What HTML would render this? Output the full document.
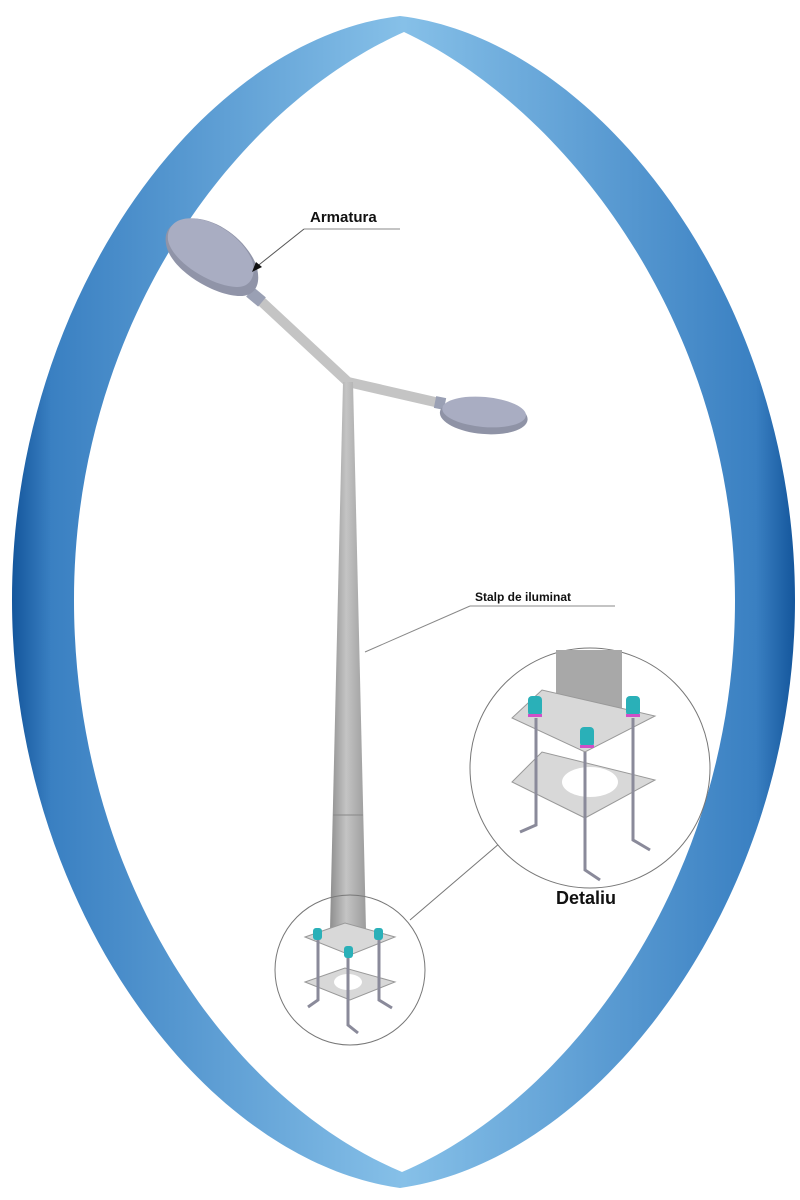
<!DOCTYPE html>
<html><head><meta charset="utf-8"><style>
html,body{margin:0;padding:0;background:#fff;width:800px;height:1200px;overflow:hidden}
svg{display:block}
text{font-family:"Liberation Sans",sans-serif;font-weight:bold;fill:#111}
</style></head><body>
<svg width="800" height="1200" viewBox="0 0 800 1200" xmlns="http://www.w3.org/2000/svg">
<defs>
<linearGradient id="rg" x1="0" y1="0" x2="1" y2="0">
<stop offset="0" stop-color="#14569c"/><stop offset="0.05" stop-color="#3a80c2"/>
<stop offset="0.5" stop-color="#86c0e8"/>
<stop offset="0.95" stop-color="#3a80c2"/><stop offset="1" stop-color="#14569c"/>
</linearGradient>
<linearGradient id="pole" x1="0" y1="0" x2="1" y2="0">
<stop offset="0" stop-color="#8e8e8e"/><stop offset="0.45" stop-color="#c4c4c4"/><stop offset="1" stop-color="#9c9c9c"/>
</linearGradient>
</defs>
<path fill="url(#rg)" fill-rule="evenodd" d="M400,16 C200,40 12,300 12,600 C12,900 200,1160 400,1188 C600,1160 795,900 795,600 C795,300 600,40 400,16 Z
M404,32 C230,110 74,330 74,600 C74,880 230,1100 402,1172 C570,1100 735,880 735,600 C735,330 570,110 404,32 Z"/>
<path d="M348,382 L262,302" stroke="#c4c4c4" stroke-width="10" fill="none" stroke-linecap="round"/>
<path d="M348,382 L435,402" stroke="#c4c4c4" stroke-width="10" fill="none" stroke-linecap="round"/>
<path d="M262,302 L250,292" stroke="#9aa0b4" stroke-width="12" fill="none"/>
<path d="M435,402 L445,404" stroke="#9aa0b4" stroke-width="12" fill="none"/>
<path d="M178,222 C200,210 240,230 255,262 C262,280 258,296 240,296 C215,296 170,270 166,244 C164,232 170,225 178,222 Z" fill="#9094a8"/>
<path d="M180,220 C202,212 240,232 252,260 C257,276 250,288 236,287 C212,286 172,262 168,240 C167,230 172,223 180,220 Z" fill="#a9adc2"/>
<g transform="translate(484,413) rotate(5)"><ellipse cx="0" cy="3" rx="44" ry="18" fill="#8f93a6"/><ellipse cx="0" cy="-1" rx="42" ry="15" fill="#a9adc2"/></g>
<polygon points="343,382 353,382 366,930 330,930" fill="url(#pole)"/>
<line x1="333" y1="815" x2="363" y2="815" stroke="#888" stroke-width="1"/>
<circle cx="350" cy="970" r="75" fill="none" stroke="#777" stroke-width="1"/>
<polygon points="305,937 345,923 395,937 350,955" fill="#d8d8d8" stroke="#999"/>
<polygon points="305,982 345,968 395,982 350,1000" fill="#d8d8d8" stroke="#999"/>
<ellipse cx="348" cy="982" rx="14" ry="8" fill="#fff"/>
<g stroke="#8a8a9a" stroke-width="3" fill="none">
<path d="M318,937 V1000 L308,1007"/><path d="M379,937 V1000 L392,1008"/><path d="M348,955 V1025 L358,1033"/>
</g>
<g fill="#2ab0b8"><rect x="313" y="928" width="9" height="12" rx="3"/><rect x="374" y="928" width="9" height="12" rx="3"/><rect x="344" y="946" width="9" height="12" rx="3"/></g>
<line x1="410" y1="920" x2="500" y2="843" stroke="#777" stroke-width="1"/>
<circle cx="590" cy="768" r="120" fill="#fff" stroke="#777" stroke-width="1"/>
<polygon points="556,650 622,650 622,720 590,742 556,720" fill="#a8a8a8"/>
<polygon points="512,718 542,690 655,716 585,752" fill="#d8d8d8" stroke="#999"/>
<polygon points="512,782 542,752 655,780 585,818" fill="#d8d8d8" stroke="#999"/>
<ellipse cx="590" cy="782" rx="28" ry="15" fill="#fff"/>
<g stroke="#8a8a9a" stroke-width="3" fill="none">
<path d="M536,718 V825 L520,832"/><path d="M633,718 V840 L650,850"/><path d="M585,752 V870 L600,880"/>
</g>
<g fill="#2ab0b8"><rect x="528" y="696" width="14" height="20" rx="4"/><rect x="626" y="696" width="14" height="20" rx="4"/><rect x="580" y="727" width="14" height="20" rx="4"/></g>
<g fill="#d04fc8"><rect x="528" y="714" width="14" height="3"/><rect x="626" y="714" width="14" height="3"/><rect x="580" y="745" width="14" height="3"/></g>
<text x="556" y="904" font-size="18">Detaliu</text>
<text x="310" y="222" font-size="15">Armatura</text>
<line x1="304" y1="229" x2="400" y2="229" stroke="#888"/>
<line x1="304" y1="229" x2="255" y2="268" stroke="#555"/>
<polygon points="252,272 256,262 262,267" fill="#111"/>
<text x="475" y="601" font-size="12">Stalp de iluminat</text>
<line x1="470" y1="606" x2="615" y2="606" stroke="#888"/>
<line x1="470" y1="606" x2="365" y2="652" stroke="#888"/>
</svg>
</body></html>
